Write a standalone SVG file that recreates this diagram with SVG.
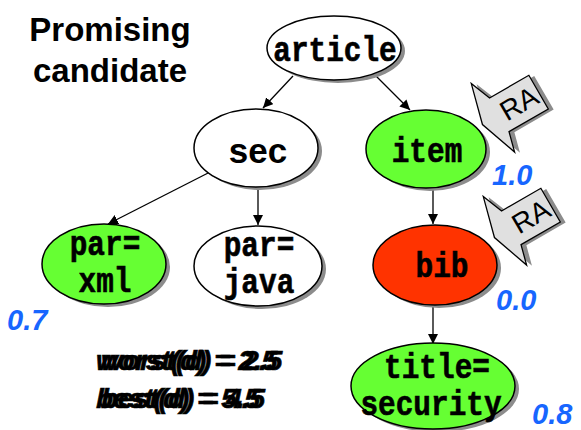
<svg xmlns="http://www.w3.org/2000/svg" width="581" height="430" viewBox="0 0 581 430">
  <style>
    .node { stroke: #000; stroke-width: 1.5; }
    .shadow { fill: #8c8c8c; }
    .white { fill: #fff; }
    .green { fill: #66ff33; }
    .red { fill: #ff3300; }
    .mono { font-family: "Liberation Mono", "DejaVu Sans Mono", monospace; font-weight: bold; font-size: 28px; text-anchor: middle; fill: #000; stroke: #000; stroke-width: 0.5; }
    .sans { font-family: "Liberation Sans", Arial, sans-serif; font-weight: bold; fill: #000; }
    .score { font-family: "Liberation Sans", Arial, sans-serif; font-weight: bold; font-style: italic; font-size: 29px; fill: #1766ff; }
    .bound { font-family: "Liberation Sans", Arial, sans-serif; font-weight: bold; font-style: italic; font-size: 28px; fill: #000; stroke: #000; stroke-width: 0.6; }
    .edge { stroke: #000; stroke-width: 1.3; fill: none; marker-end: url(#arrow); }
    .tag { fill: #e0e0e0; stroke: #000; stroke-width: 1.2; }
    .tagshadow { fill: #8c8c8c; }
    .tagtext { font-family: "Liberation Sans", Arial, sans-serif; font-size: 26px; text-anchor: middle; fill: #000; }
  </style>
  <defs>
    <marker id="arrow" viewBox="0 0 10 10" refX="10" refY="5" markerWidth="10" markerHeight="10" markerUnits="userSpaceOnUse" orient="auto">
      <path d="M0,0 L10,5 L0,10 z" fill="#000"/>
    </marker>
    <!-- block arrow tag, pointing along -x -->
    <path id="ra-shape" d="M-20,-18 L22,-18 L22,18 L-20,18 L-25,37 L-38,0 L-28,-38 z"/>
  </defs>

  <rect width="581" height="430" fill="#fff"/>

  <!-- heading -->
  <g id="heading">
    <text class="sans" x="110" y="41" font-size="33" text-anchor="middle">Promising</text>
    <text class="sans" x="110" y="82" font-size="33" text-anchor="middle">candidate</text>
  </g>

  <!-- connectors -->
  <g id="connectors">
    <line class="edge" x1="293" y1="76" x2="263" y2="108"/>
    <line class="edge" x1="376" y1="76" x2="410" y2="110"/>
    <line class="edge" x1="212" y1="171" x2="108" y2="224"/>
    <line class="edge" x1="258" y1="188" x2="258" y2="225"/>
    <line class="edge" x1="433" y1="189" x2="433" y2="224"/>
    <line class="edge" x1="433" y1="306" x2="433" y2="344"/>
  </g>

  <g id="article">
    <ellipse class="shadow" cx="338" cy="51" rx="67" ry="32"/>
    <ellipse class="node white" cx="334" cy="48" rx="67" ry="32"/>
    <text class="mono" transform="translate(335,61) scale(1.05,1.25)">article</text>
  </g>

  <g id="sec">
    <ellipse class="shadow" cx="260" cy="151" rx="62" ry="39"/>
    <ellipse class="node white" cx="256" cy="148" rx="62" ry="39"/>
    <text class="sans" x="258" y="163" font-size="35" text-anchor="middle">sec</text>
  </g>

  <g id="item">
    <ellipse class="shadow" cx="430" cy="152" rx="60" ry="39"/>
    <ellipse class="node green" cx="426" cy="149" rx="60" ry="39"/>
    <text class="mono" transform="translate(427,162) scale(1.05,1.25)">item</text>
  </g>

  <g id="par-xml">
    <ellipse class="shadow" cx="108" cy="267" rx="62" ry="40"/>
    <ellipse class="node green" cx="104" cy="264" rx="62" ry="40"/>
    <text class="mono" transform="translate(105,255) scale(1.05,1.25)">par=</text>
    <text class="mono" transform="translate(105,292) scale(1.05,1.25)">xml</text>
  </g>

  <g id="par-java">
    <ellipse class="shadow" cx="262" cy="269" rx="64" ry="40"/>
    <ellipse class="node white" cx="258" cy="266" rx="64" ry="40"/>
    <text class="mono" transform="translate(259,256) scale(1.05,1.25)">par=</text>
    <text class="mono" transform="translate(259,293) scale(1.05,1.25)">java</text>
  </g>

  <g id="bib">
    <ellipse class="shadow" cx="439" cy="268" rx="62" ry="40"/>
    <ellipse class="node red" cx="435" cy="265" rx="62" ry="40"/>
    <text class="mono" transform="translate(442,277) scale(1.05,1.25)">bib</text>
  </g>

  <g id="title-security">
    <ellipse class="shadow" cx="437" cy="389" rx="82" ry="43"/>
    <ellipse class="node green" cx="433" cy="386" rx="82" ry="43"/>
    <text class="mono" transform="translate(437,378) scale(1.05,1.25)">title=</text>
    <text class="mono" transform="translate(431,415) scale(1.05,1.25)">security</text>
  </g>

  <!-- RA tags -->
  <g id="ra-1" transform="translate(518,104) rotate(-30) scale(1.08)">
    <use href="#ra-shape" class="tagshadow" transform="translate(4,3)"/>
    <use href="#ra-shape" class="tag"/>
    <text class="tagtext" x="1" y="9">RA</text>
  </g>
  <g id="ra-2" transform="translate(530,217) rotate(-30) scale(1.08)">
    <use href="#ra-shape" class="tagshadow" transform="translate(4,3)"/>
    <use href="#ra-shape" class="tag"/>
    <text class="tagtext" x="1" y="9">RA</text>
  </g>

  <!-- scores -->
  <g id="scores">
    <text class="score" x="492" y="185">1.0</text>
    <text class="score" x="496" y="310">0.0</text>
    <text class="score" x="7" y="330">0.7</text>
    <text class="score" x="532" y="424">0.8</text>
  </g>

  <!-- bounds -->
  <g id="bounds">
    <text class="bound" x="96" y="370">worst(d) = 2.5</text>
    <text class="bound" x="101" y="370">worst(d) = 2.5</text>
    <text class="bound" x="96" y="408">best(d) = 5.5</text>
    <text class="bound" x="101" y="408">best(d) = 4.5</text>
  </g>
</svg>
